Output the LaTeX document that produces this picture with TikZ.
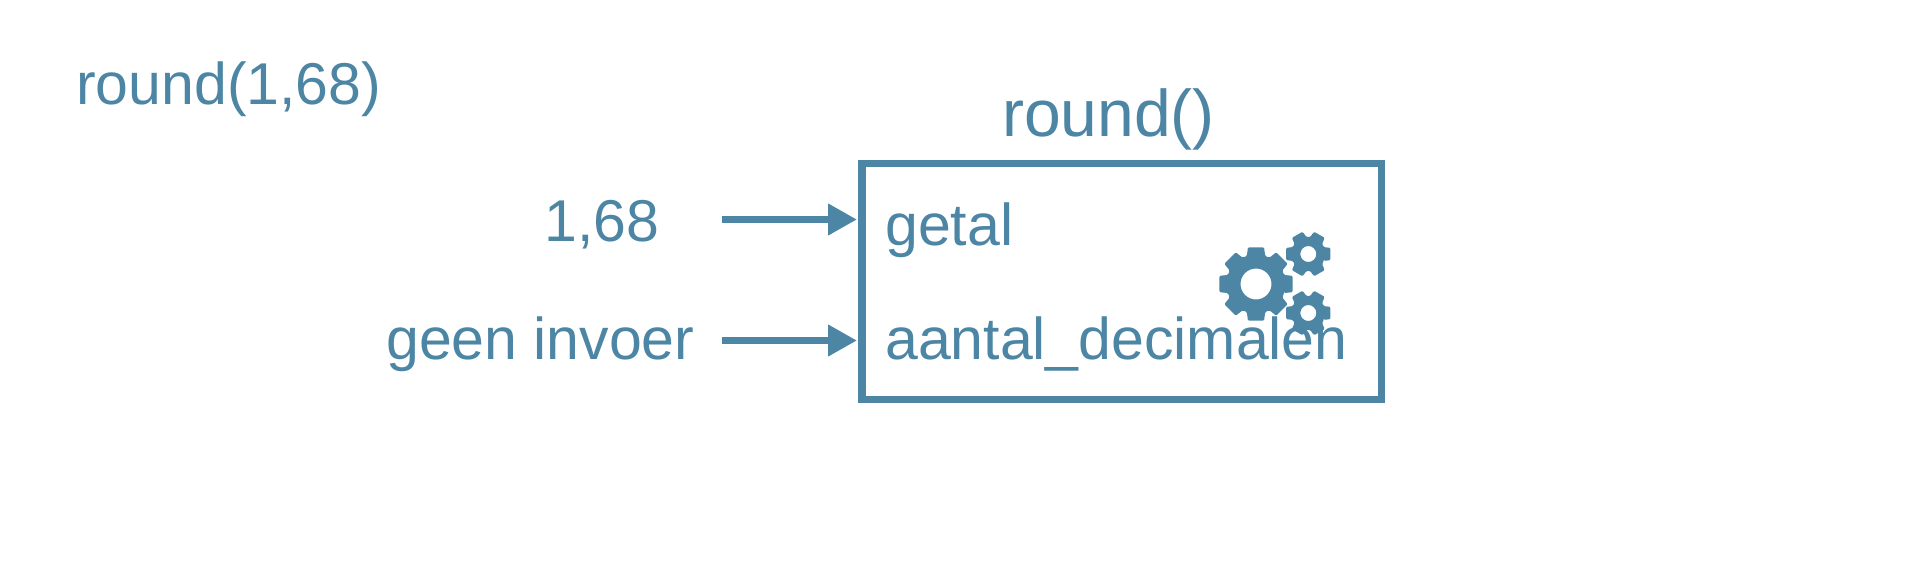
\documentclass[tikz,border=0pt]{standalone}
\usepackage{fontspec}
\setmainfont{Liberation Sans}
\usetikzlibrary{arrows.meta}
\definecolor{tealblue}{HTML}{4C86A4}
\tikzset{
  lbl/.style={text=tealblue,inner sep=0pt,anchor=base west,font=\fontsize{59}{66}\selectfont},
  bigl/.style={lbl,font=\fontsize{66}{72}\selectfont},
  conn/.style={draw=tealblue,line width=7.2pt,-{Triangle[length=29pt,width=30pt]},shorten >=0pt},
  frame/.style={draw=tealblue,line width=7.5pt,inner sep=0pt,outer sep=0pt,anchor=north west}
}
% x, y, outer r, body r, hole r, teeth list, tip half-angle, base half-angle
\newcommand{\cogwheel}[8]{%
  \fill[tealblue,even odd rule,shift={(#1,-#2)},rounded corners=1.2pt]
    (-#8:#4)
    \foreach \a in {#6}{ -- ({\a-#8}:#4) -- ({\a-#7}:#3) -- ({\a+#7}:#3) -- ({\a+#8}:#4) } -- cycle
    (0,0) circle (#5);}
\begin{document}
\begin{tikzpicture}[x=1pt,y=1pt]
\useasboundingbox (0,0) rectangle (1920,-560);
\fill[white] (0,0) rectangle (1920,-560);
\cogwheel{1256}{284}{37.5}{29.5}{15.5}{0,45,...,315}{12.5}{18}
\cogwheel{1308.3}{254}{23}{17}{8}{0,60,...,300}{15.5}{24}
\cogwheel{1308.3}{313}{23}{17}{8}{0,60,...,300}{15.5}{24}
\node[lbl] (title) at (76,-104) {round(1,68)};
\node[bigl] (fname) at (1002,-136.5) {round()};
\node[frame,minimum width=519.5pt,minimum height=236pt] (box) at (862,-163.5) {};
\node[lbl] (v1) at (544,-241.7) {1,68};
\node[lbl] (v2) at (386,-359.5) {geen invoer};
\node[lbl] (p1) at (885,-245) {getal};
\node[lbl] (p2) at (885,-359.5) {aantal\_decimalen};
\coordinate (s1) at (722,-219.5);
\coordinate (e1) at (857,-219.5);
\coordinate (s2) at (722,-340.5);
\coordinate (e2) at (857,-340.5);
\draw[conn] (s1) -- (e1);
\draw[conn] (s2) -- (e2);
\end{tikzpicture}
\end{document}
